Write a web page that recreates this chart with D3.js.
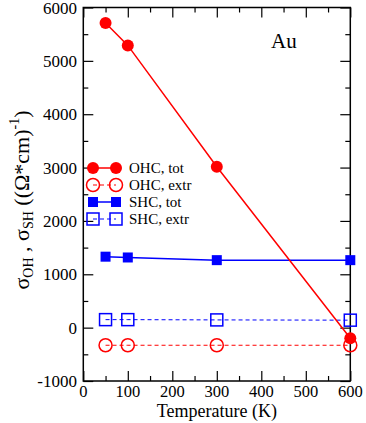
<!DOCTYPE html>
<html>
<head>
<meta charset="utf-8">
<script src="https://d3js.org/d3.v7.min.js"></script>
<style>
  body { margin: 0; background: white; }
  svg text { font-family: "Liberation Serif", "Times New Roman", "DejaVu Serif", serif; }
</style>
</head>
<body>
<svg id="vis"></svg>
<script>
  // Data Setup
  var temps = [50, 100, 300, 600];
  var ohcTot = [5710, 5290, 3015, -200];
  var ohcExtr = [-330, -330, -330, -330];
  var shcTot = [1330, 1315, 1265, 1265];
  var shcExtr = [150, 150, 145, 140];
  var xTicks = [0, 100, 200, 300, 400, 500, 600];
  var yTicks = [-1000, 0, 1000, 2000, 3000, 4000, 5000, 6000];
  var legendLabels = ['OHC, tot', 'OHC, extr', 'SHC, tot', 'SHC, extr'];

  // SVG Setup
  var width = 366, height = 423;
  var svg = d3.select('#vis')
  .attr('width', width)
  .attr('height', height);

  var plotLeft = 83.3, plotRight = 350.3, plotTop = 7.5, plotBottom = 381;

  var xscale = d3.scaleLinear()
  .domain([0, 600])
  .range([plotLeft, plotRight]);

  var yscale = d3.scaleLinear()
  .domain([-1000, 6000])
  .range([plotBottom, plotTop]);

  // Series setup
  var series = [
    {name: legendLabels[0], values: ohcTot, color: '#ff0000', shape: 'circle', filled: true, dash: null},
    {name: legendLabels[1], values: ohcExtr, color: '#ff0000', shape: 'circle', filled: false, dash: '4,3'},
    {name: legendLabels[2], values: shcTot, color: '#0000ff', shape: 'square', filled: true, dash: null},
    {name: legendLabels[3], values: shcExtr, color: '#0000ff', shape: 'square', filled: false, dash: '4,3'}
  ];

  // Axes: ticks inside, on all four sides
  function tickAxis(axis, scale, ticks, minor) {
    return axis(scale).tickValues(ticks).tickSizeInner(minor ? 5 : 10).tickSizeOuter(0).tickFormat('');
  }
  var xMinor = d3.range(50, 600, 100);
  var yMinor = d3.range(-500, 6000, 1000);

  var gb = svg.append('g').attr('transform', 'translate(0,' + plotBottom + ')');
  gb.call(tickAxis(d3.axisTop, xscale, xTicks));
  gb.append('g').call(tickAxis(d3.axisTop, xscale, xMinor, true));

  var gt = svg.append('g').attr('transform', 'translate(0,' + plotTop + ')');
  gt.call(tickAxis(d3.axisBottom, xscale, xTicks));
  gt.append('g').call(tickAxis(d3.axisBottom, xscale, xMinor, true));

  var gl = svg.append('g').attr('transform', 'translate(' + plotLeft + ',0)');
  gl.call(tickAxis(d3.axisRight, yscale, yTicks));
  gl.append('g').call(tickAxis(d3.axisRight, yscale, yMinor, true));

  var gr = svg.append('g').attr('transform', 'translate(' + plotRight + ',0)');
  gr.call(tickAxis(d3.axisLeft, yscale, yTicks));
  gr.append('g').call(tickAxis(d3.axisLeft, yscale, yMinor, true));

  svg.selectAll('.domain').remove();
  svg.selectAll('.tick text').remove();
  svg.selectAll('.tick line').attr('stroke', 'black').attr('stroke-width', 1.2);

  // Frame
  svg.append('rect')
  .attr('x', plotLeft).attr('y', plotTop)
  .attr('width', plotRight - plotLeft).attr('height', plotBottom - plotTop)
  .attr('fill', 'none').attr('stroke', 'black').attr('stroke-width', 1.5);

  // Tick labels
  svg.selectAll('.xlab')
  .data(xTicks)
  .enter().append('text')
  .attr('class', 'xlab')
  .attr('x', function(d) { return xscale(d) })
  .attr('y', 397)
  .attr('text-anchor', 'middle')
  .attr('font-size', 16.5)
  .text(function(d) { return d });

  svg.selectAll('.ylab')
  .data(yTicks)
  .enter().append('text')
  .attr('class', 'ylab')
  .attr('x', 77)
  .attr('y', function(d) { return yscale(d) + 6 })
  .attr('text-anchor', 'end')
  .attr('font-size', 17)
  .text(function(d) { return d });

  // Axis titles
  svg.append('text')
  .attr('x', (plotLeft + plotRight) / 2)
  .attr('y', 417)
  .attr('text-anchor', 'middle')
  .attr('font-size', 18)
  .text('Temperature (K)');

  var ylab = svg.append('text')
  .attr('transform', 'translate(29,200) rotate(-90)')
  .attr('text-anchor', 'middle')
  .attr('font-size', 22);
  ylab.append('tspan').text('σ');
  ylab.append('tspan').attr('font-size', 14).attr('dy', 4).text('OH');
  ylab.append('tspan').attr('dy', -4).text(' , σ');
  ylab.append('tspan').attr('font-size', 14).attr('dy', 4).text('SH');
  ylab.append('tspan').attr('dy', -4).text('  ((Ω*cm)');
  ylab.append('tspan').attr('font-size', 14).attr('dy', -10).text('-1');
  ylab.append('tspan').attr('dy', 10).text(')');

  // Label in corner
  svg.append('text')
  .attr('x', 271)
  .attr('y', 48)
  .attr('font-size', 21)
  .text('Au');

  // Marker helper
  function drawMarker(g, s, cx, cy) {
    if (s.shape === 'circle') {
      g.append('circle')
      .attr('cx', cx).attr('cy', cy)
      .attr('r', s.filled ? 6 : 6.5)
      .attr('fill', s.filled ? s.color : 'none')
      .attr('stroke', s.color)
      .attr('stroke-width', s.filled ? 0 : 1.5);
    } else {
      var sz = s.filled ? 10 : 12;
      g.append('rect')
      .attr('x', cx - sz / 2).attr('y', cy - sz / 2)
      .attr('width', sz).attr('height', sz)
      .attr('fill', s.filled ? s.color : 'none')
      .attr('stroke', s.color)
      .attr('stroke-width', s.filled ? 0 : 1.5);
    }
  }

  var line = d3.line()
  .x(function(d, i) { return xscale(temps[i]) })
  .y(function(d) { return yscale(d) });

  // Series: draw extr first so tot lies on top
  [1, 3, 2, 0].forEach(function(k) {
    var s = series[k];
    var g = svg.append('g');
    g.append('path')
    .attr('d', line(s.values))
    .attr('fill', 'none')
    .attr('stroke', s.color)
    .attr('stroke-width', s.dash ? 1 : 1.5)
    .attr('stroke-dasharray', s.dash);
    s.values.forEach(function(v, i) { drawMarker(g, s, xscale(temps[i]), yscale(v)) });
  });

  // Legend
  var legendY = [168, 185, 202, 219];
  series.forEach(function(s, i) {
    var g = svg.append('g');
    var y = legendY[i];
    g.append('line')
    .attr('x1', 93).attr('x2', 116).attr('y1', y).attr('y2', y)
    .attr('stroke', s.color)
    .attr('stroke-width', s.dash ? 1 : 1.5)
    .attr('stroke-dasharray', s.dash);
    drawMarker(g, s, 93, y);
    drawMarker(g, s, 116, y);
    g.append('text')
    .attr('x', 129).attr('y', y + 5)
    .attr('font-size', 15)
    .text(s.name);
  });
</script>
</body>
</html>
